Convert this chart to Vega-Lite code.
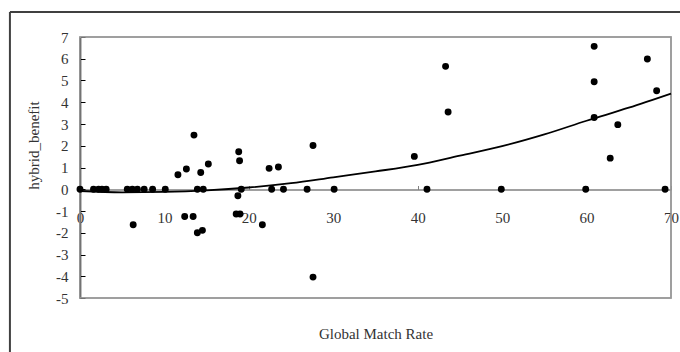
{
  "$schema": "https://vega.github.io/schema/vega-lite/v6.json",
  "width": 591,
  "height": 261,
  "autosize": "none",
  "padding": {"left": 80, "top": 37, "right": 9, "bottom": 54},
  "background": "white",
  "config": {
    "view": {"stroke": "#999999", "strokeWidth": 1.5},
    "font": "Liberation Serif",
    "axis": {
      "grid": false,
      "labelFontSize": 15, "labelColor": "#333333",
      "labelFlush": false, "labelOverlap": false,
      "labelExpr": "datum.value + ''",
      "titleFontSize": 15, "titleFontWeight": "normal", "titleColor": "#333333"
    },
    "axisX": {
      "offset": -108.5,
      "domainColor": "#808080", "domainWidth": 1.5,
      "tickColor": "#808080", "tickSize": -4,
      "labelPadding": 25,
      "titleY": 143.5, "titleBaseline": "middle"
    },
    "axisY": {
      "domainColor": "black", "domainWidth": 1.5,
      "tickColor": "black", "tickSize": -5,
      "labelPadding": 17,
      "titleX": -47, "titleY": 108, "titleBaseline": "middle", "titleAlign": "center", "titleAngle": -90
    }
  },
  "datasets": {
    "points": [
      {"x": 0, "y": 0}, {"x": 1.6, "y": 0}, {"x": 2.2, "y": 0}, {"x": 2.6, "y": 0}, {"x": 3.1, "y": 0},
      {"x": 5.6, "y": 0}, {"x": 6.2, "y": 0}, {"x": 6.8, "y": 0}, {"x": 7.6, "y": 0}, {"x": 8.6, "y": 0},
      {"x": 10.1, "y": 0}, {"x": 13.9, "y": 0}, {"x": 14.6, "y": 0}, {"x": 19.1, "y": 0}, {"x": 22.7, "y": 0},
      {"x": 24.1, "y": 0}, {"x": 26.9, "y": 0}, {"x": 30.1, "y": 0}, {"x": 41.1, "y": 0}, {"x": 49.9, "y": 0},
      {"x": 59.9, "y": 0}, {"x": 69.3, "y": 0},
      {"x": 6.3, "y": -1.63}, {"x": 11.6, "y": 0.67}, {"x": 12.6, "y": 0.93}, {"x": 13.5, "y": 2.49},
      {"x": 14.3, "y": 0.77}, {"x": 15.2, "y": 1.16}, {"x": 12.4, "y": -1.25}, {"x": 13.4, "y": -1.25},
      {"x": 13.9, "y": -2.0}, {"x": 14.5, "y": -1.89}, {"x": 18.8, "y": 1.72}, {"x": 18.9, "y": 1.31},
      {"x": 18.7, "y": -0.3}, {"x": 18.5, "y": -1.14}, {"x": 18.95, "y": -1.14}, {"x": 21.6, "y": -1.63},
      {"x": 27.6, "y": -4.04}, {"x": 22.4, "y": 0.96}, {"x": 23.5, "y": 1.02}, {"x": 27.6, "y": 2.01},
      {"x": 39.6, "y": 1.51}, {"x": 43.3, "y": 5.65}, {"x": 43.6, "y": 3.55}, {"x": 60.9, "y": 6.57},
      {"x": 60.9, "y": 4.94}, {"x": 60.9, "y": 3.3}, {"x": 63.7, "y": 2.97}, {"x": 62.8, "y": 1.43},
      {"x": 67.2, "y": 5.99}, {"x": 68.3, "y": 4.53}
    ],
    "trend": [
      {"x": 0, "y": -0.08}, {"x": 5, "y": -0.14}, {"x": 10, "y": -0.12}, {"x": 15, "y": -0.05},
      {"x": 20, "y": 0.08}, {"x": 25, "y": 0.28}, {"x": 30, "y": 0.55}, {"x": 35, "y": 0.82},
      {"x": 40, "y": 1.12}, {"x": 45, "y": 1.55}, {"x": 50, "y": 1.98}, {"x": 55, "y": 2.52},
      {"x": 60, "y": 3.15}, {"x": 65, "y": 3.75}, {"x": 70, "y": 4.4}
    ]
  },
  "encoding": {
    "x": {
      "type": "quantitative", "title": "Global Match Rate",
      "scale": {"domain": [0, 70], "nice": false, "zero": false},
      "axis": {"values": [0, 10, 20, 30, 40, 50, 60, 70]}
    },
    "y": {
      "type": "quantitative", "title": "hybrid_benefit",
      "scale": {"domain": [-5, 7], "nice": false, "zero": false},
      "axis": {"values": [-5, -4, -3, -2, -1, 0, 1, 2, 3, 4, 5, 6, 7]}
    }
  },
  "layer": [
    {
      "data": {"values": [{"edge": "plot"}]},
      "mark": {"type": "rect", "fill": "transparent", "stroke": "#999999", "strokeWidth": 1.5, "clip": false},
      "encoding": {
        "x": {"datum": 0, "type": "quantitative"},
        "x2": {"datum": 70},
        "y": {"datum": -5, "type": "quantitative"},
        "y2": {"datum": 7}
      }
    },
    {
      "data": {"name": "points"},
      "mark": {"type": "circle", "size": 48, "color": "black", "opacity": 1},
      "encoding": {
        "x": {"field": "x", "type": "quantitative"},
        "y": {"field": "y", "type": "quantitative"}
      }
    },
    {
      "data": {"name": "trend"},
      "mark": {"type": "line", "color": "black", "strokeWidth": 1.8, "interpolate": "monotone"},
      "encoding": {
        "x": {"field": "x", "type": "quantitative"},
        "y": {"field": "y", "type": "quantitative"}
      }
    },
    {
      "data": {"values": [{"frame": "chart"}]},
      "mark": {"type": "rule", "color": "#404040", "strokeWidth": 2, "clip": false},
      "encoding": {
        "x": {"datum": -8.3, "type": "quantitative"},
        "y": {"datum": 8.15, "type": "quantitative"},
        "x2": {"datum": 90}
      }
    },
    {
      "data": {"values": [{"frame": "chart"}]},
      "mark": {"type": "rule", "color": "#404040", "strokeWidth": 2, "clip": false},
      "encoding": {
        "x": {"datum": -8.3, "type": "quantitative"},
        "y": {"datum": 8.15, "type": "quantitative"},
        "y2": {"datum": -30}
      }
    }
  ]
}
